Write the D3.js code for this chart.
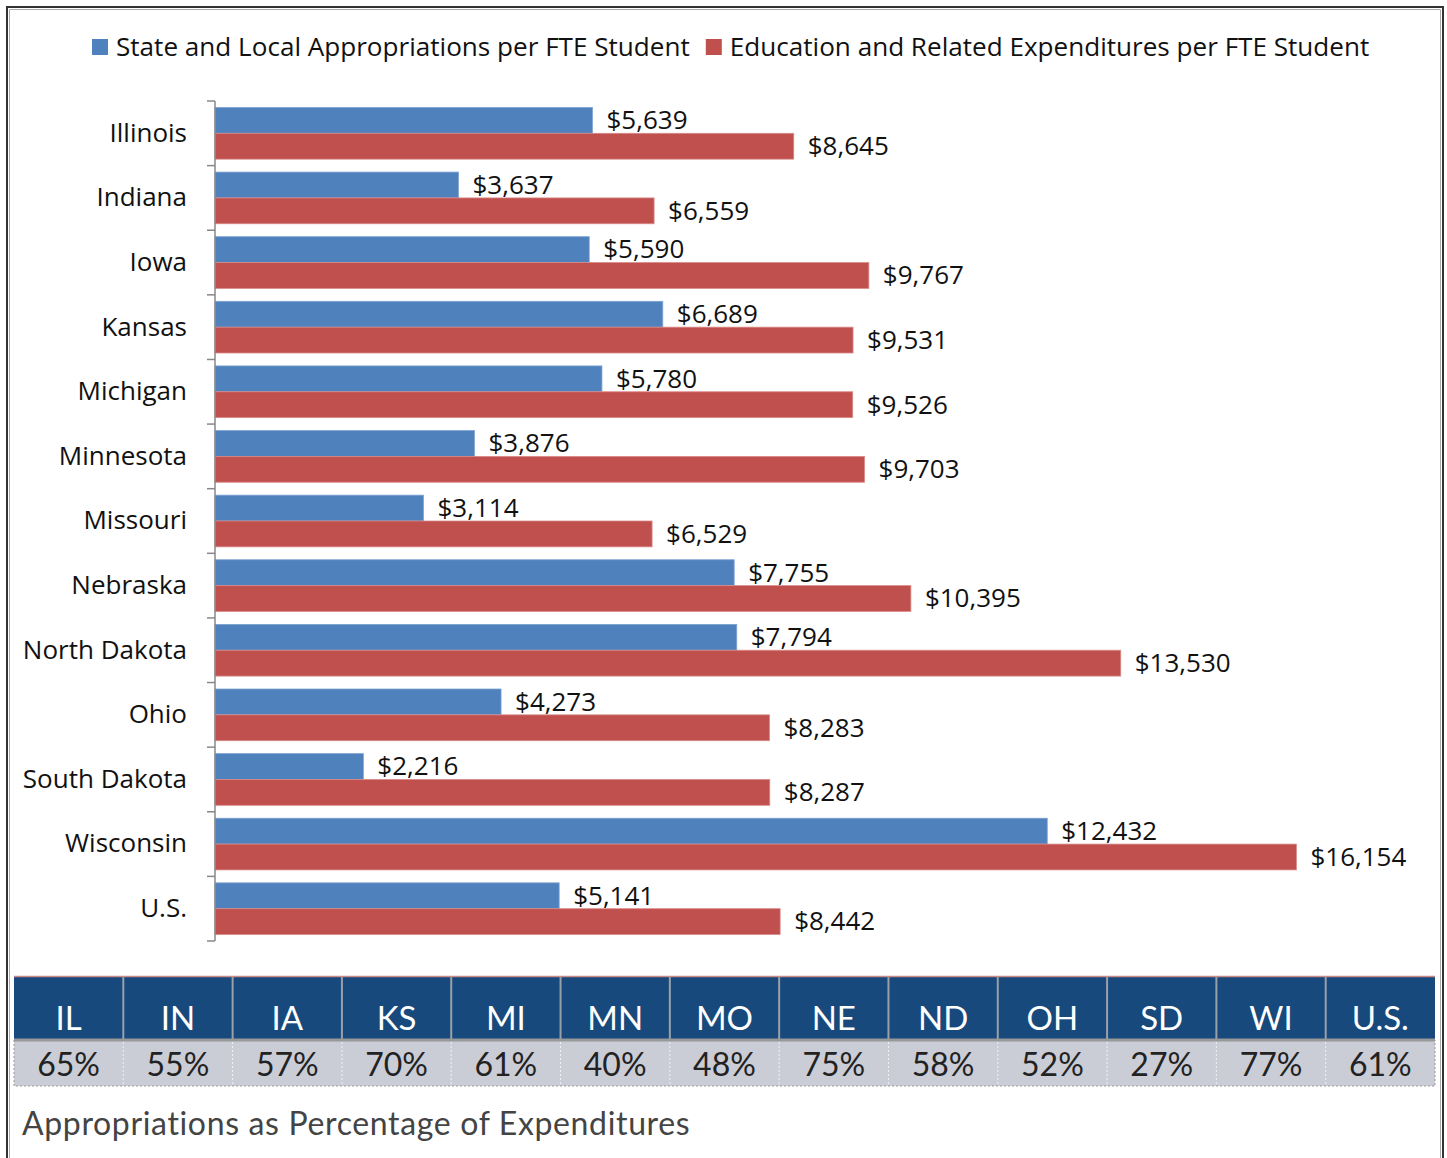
<!DOCTYPE html>
<html>
<head>
<meta charset="utf-8">
<script src="https://cdn.jsdelivr.net/npm/d3@7/dist/d3.min.js"></script>
<style>
  body { margin: 0; background: #fff; }
  svg text { font-family: "Open Sans", sans-serif; }
  .tbl text { font-family: Lato, "Noto Sans", sans-serif; }
</style>
</head>
<body>
<svg id="chart" width="1447" height="1158"></svg>
<script>
const states = ['Illinois', 'Indiana', 'Iowa', 'Kansas', 'Michigan', 'Minnesota', 'Missouri',
  'Nebraska', 'North Dakota', 'Ohio', 'South Dakota', 'Wisconsin', 'U.S.'];
const appropriations = [5639, 3637, 5590, 6689, 5780, 3876, 3114, 7755, 7794, 4273, 2216, 12432, 5141];
const expenditures = [8645, 6559, 9767, 9531, 9526, 9703, 6529, 10395, 13530, 8283, 8287, 16154, 8442];
const seriesNames = ['State and Local Appropriations per FTE Student', 'Education and Related Expenditures per FTE Student'];
const abbrevs = ['IL', 'IN', 'IA', 'KS', 'MI', 'MN', 'MO', 'NE', 'ND', 'OH', 'SD', 'WI', 'U.S.'];
const percents = ['65%', '55%', '57%', '70%', '61%', '40%', '48%', '75%', '58%', '52%', '27%', '77%', '61%'];
const tableTitle = 'Appropriations as Percentage of Expenditures';

const colors = ['#4f81bd', '#c0504d'];
const svg = d3.select('#chart');

// frame (open at the bottom)
svg.append('path')
  .attr('d', 'M7,1158 V7 H1443 V1158')
  .attr('fill', 'none').attr('stroke', '#333').attr('stroke-width', 2);
svg.append('path')
  .attr('d', 'M9.5,1158 V9.5 H1440.5 V1158')
  .attr('fill', 'none').attr('stroke', '#aaa').attr('stroke-width', 1);

// legend
const legend = svg.append('g').attr('transform', 'translate(92,47)');
let lx = 0;
seriesNames.forEach((name, i) => {
  const g = legend.append('g').attr('transform', 'translate(' + lx + ',0)');
  g.append('rect').attr('x', 0).attr('y', -8).attr('width', 16).attr('height', 16).attr('fill', colors[i]);
  const t = g.append('text').attr('x', 24).attr('y', 0).attr('dy', '0.35em')
    .style('font-size', '26.1px').attr('fill', '#111').text(name);
  lx += 24 + t.node().getComputedTextLength() + 16;
});

// scales
const x = d3.scaleLinear().domain([0, 18000]).range([215, 1420]);
const y = d3.scaleBand().domain(states).range([101, 941]).paddingInner(0.2).paddingOuter(0.1);
const sub = d3.scaleBand().domain([0, 1]).range([0, y.bandwidth()]);

// bars
const rows = svg.append('g').selectAll('g')
  .data(states.map((s, i) => ({ state: s, values: [appropriations[i], expenditures[i]] })))
  .join('g')
  .attr('transform', (d) => 'translate(0,' + y(d.state) + ')');

rows.selectAll('rect')
  .data((d) => d.values)
  .join('rect')
  .attr('x', x(0))
  .attr('y', (d, i) => sub(i))
  .attr('width', (d) => x(d) - x(0))
  .attr('height', sub.bandwidth())
  .attr('fill', (d, i) => colors[i])
  .attr('stroke', (d, i) => i === 0 ? '#7ea3d3' : '#d98a88')
  .attr('stroke-width', 0.8);

rows.selectAll('text')
  .data((d) => d.values)
  .join('text')
  .attr('x', (d) => x(d) + 14)
  .attr('y', (d, i) => sub(i) + sub.bandwidth() / 2 - 0.5)
  .attr('dy', '0.36em')
  .style('font-size', '26px')
  .attr('fill', '#111')
  .text((d) => '$' + d3.format(',')(d));

// category axis
const axis = svg.append('g').attr('transform', 'translate(215,0)');
axis.append('line').attr('x1', 0).attr('x2', 0).attr('y1', 101).attr('y2', 941)
  .attr('stroke', '#888').attr('stroke-width', 1.5);
const bounds = states.map((s) => y(s) - y.step() * y.paddingInner() / 2);
bounds[0] = 101;
bounds.push(941);
axis.selectAll('line.tick').data(bounds).join('line').attr('class', 'tick')
  .attr('x1', -8).attr('x2', 0)
  .attr('y1', (d) => d).attr('y2', (d) => d)
  .attr('stroke', '#888').attr('stroke-width', 1.5);
axis.selectAll('text').data(states).join('text')
  .attr('x', -28)
  .attr('y', (d) => y(d) + y.bandwidth() / 2 - 1)
  .attr('dy', '0.36em')
  .attr('text-anchor', 'end')
  .style('font-size', '26px')
  .attr('fill', '#111')
  .text((d) => d);

// table
const tbl = svg.append('g').attr('class', 'tbl');
const col = d3.scaleBand().domain(abbrevs).range([14, 1435]);
const tblTop = 976, headH = 64, rowH = 46;

tbl.append('rect').attr('x', 14).attr('y', tblTop).attr('width', 1421).attr('height', headH).attr('fill', '#17497c');
tbl.append('rect').attr('x', 14).attr('y', tblTop + headH).attr('width', 1421).attr('height', rowH)
  .attr('fill', '#cbcdd6').attr('stroke', '#999').attr('stroke-dasharray', '2,2').attr('stroke-width', 1);
tbl.append('line').attr('x1', 14).attr('x2', 1435).attr('y1', tblTop + 0.5).attr('y2', tblTop + 0.5)
  .attr('stroke', '#c98a88').attr('stroke-width', 1.5);
tbl.append('line').attr('x1', 14).attr('x2', 1435).attr('y1', tblTop + headH).attr('y2', tblTop + headH)
  .attr('stroke', '#999').attr('stroke-width', 3);

tbl.selectAll('line.sepH').data(abbrevs.slice(1)).join('line').attr('class', 'sepH')
  .attr('x1', (d) => col(d)).attr('x2', (d) => col(d))
  .attr('y1', tblTop + 1).attr('y2', tblTop + headH - 1)
  .attr('stroke', '#9aa0aa').attr('stroke-width', 2);
tbl.selectAll('line.sepP').data(abbrevs.slice(1)).join('line').attr('class', 'sepP')
  .attr('x1', (d) => col(d)).attr('x2', (d) => col(d))
  .attr('y1', tblTop + headH + 2).attr('y2', tblTop + headH + rowH)
  .attr('stroke', '#f2f2f2').attr('stroke-dasharray', '2,2').attr('stroke-width', 1);

tbl.selectAll('text.abbr').data(abbrevs).join('text').attr('class', 'abbr')
  .attr('x', (d) => col(d) + col.bandwidth() / 2)
  .attr('y', 1030)
  .attr('text-anchor', 'middle')
  .style('font-size', '33px')
  .attr('fill', '#fff')
  .text((d) => d);
tbl.selectAll('text.pct').data(percents).join('text').attr('class', 'pct')
  .attr('x', (d, i) => col(abbrevs[i]) + col.bandwidth() / 2)
  .attr('y', 1076)
  .attr('text-anchor', 'middle')
  .style('font-size', '32px')
  .attr('fill', '#222')
  .text((d) => d);

tbl.append('text').attr('x', 22).attr('y', 1135)
  .style('font-size', '32px').style('letter-spacing', '0.65px').attr('fill', '#444')
  .text(tableTitle);
</script>
</body>
</html>
